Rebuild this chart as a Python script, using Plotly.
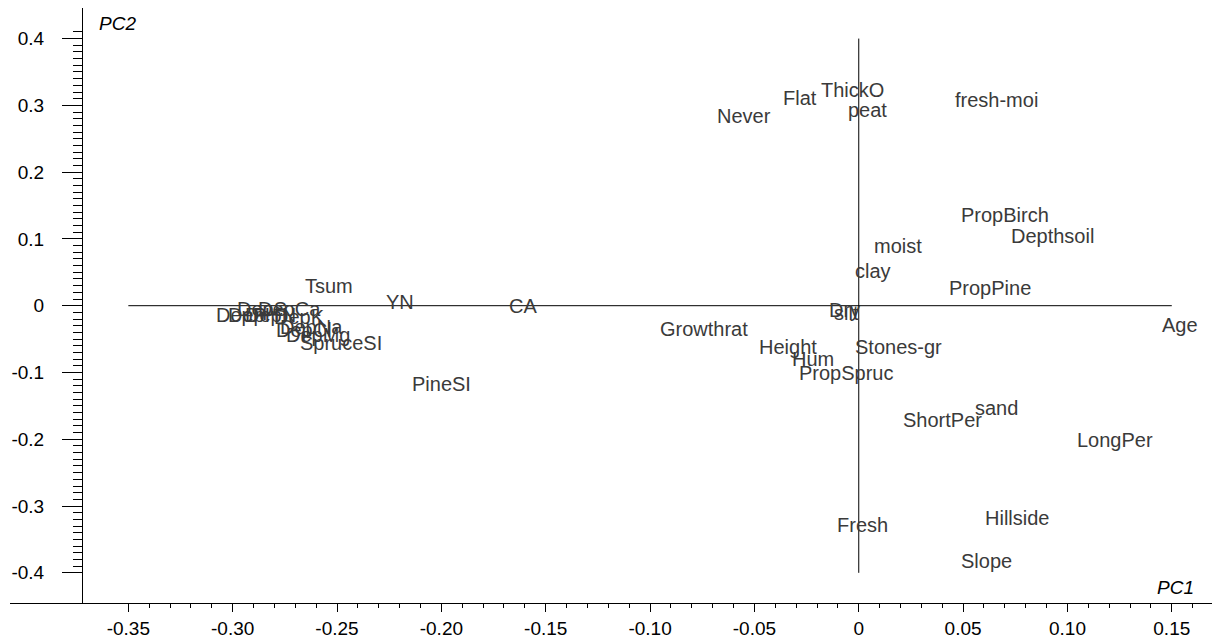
import numpy as np
import plotly.graph_objects as go

# Variable loadings (PC1, PC2)
labels = ["Never", "Flat", "ThickO", "peat", "fresh-moi",
          "PropBirch", "Depthsoil", "moist", "clay", "PropPine",
          "Tsum", "YN", "CA", "PineSI",
          "DepS", "DepCa", "DepP", "DepH", "DepN", "DepK", "DepCl", "DepNa", "DepMg", "SpruceSI",
          "Growthrat", "Height", "Hum", "PropSpruc", "Dry", "silt", "Stones-gr",
          "Age", "sand", "ShortPer", "LongPer", "Hillside", "Slope", "Fresh"]
pc1 = [-0.055, -0.028, -0.003, 0.004, 0.066,
       0.070, 0.093, 0.019, 0.007, 0.063,
       -0.254, -0.220, -0.161, -0.200,
       -0.286, -0.273, -0.296, -0.290, -0.282, -0.268, -0.266, -0.262, -0.259, -0.248,
       -0.074, -0.034, -0.022, -0.006, -0.007, -0.006, 0.019,
       0.154, 0.066, 0.040, 0.123, 0.076, 0.061, 0.002]
pc2 = [0.285, 0.313, 0.324, 0.294, 0.309,
       0.137, 0.106, 0.091, 0.054, 0.028,
       0.031, 0.007, 0.001, -0.116,
       -0.003, -0.003, -0.013, -0.013, -0.013, -0.016, -0.035, -0.030, -0.042, -0.054,
       -0.033, -0.060, -0.079, -0.100, -0.005, -0.009, -0.061,
       -0.028, -0.151, -0.169, -0.200, -0.316, -0.381, -0.327]

x_ticks = [-0.35, -0.30, -0.25, -0.20, -0.15, -0.10, -0.05, 0, 0.05, 0.10, 0.15]
x_ticktext = ["-0.35", "-0.30", "-0.25", "-0.20", "-0.15", "-0.10", "-0.05", "0", "0.05", "0.10", "0.15"]
y_ticks = [-0.4, -0.3, -0.2, -0.1, 0, 0.1, 0.2, 0.3, 0.4]
y_ticktext = ["-0.4", "-0.3", "-0.2", "-0.1", "0", "0.1", "0.2", "0.3", "0.4"]

pc1_extent = [-0.35, 0.15]
pc2_extent = [-0.4, 0.4]

FONT = "Liberation Sans, Arial, sans-serif"

fig = go.Figure()
# invisible anchor points (for hover) - labels drawn as annotations
fig.add_trace(go.Scatter(
    x=pc1, y=pc2, text=labels, mode="markers", marker=dict(size=1, opacity=0),
    hoverinfo="text", showlegend=False))

for lab, px, py in zip(labels, pc1, pc2):
    fig.add_annotation(x=px, y=py, text=lab, showarrow=False, yshift=-1,
                       xanchor="center", yanchor="middle",
                       font=dict(family=FONT, size=20, color="#3a3a3a"))

# centre cross lines
fig.add_shape(type="line", x0=pc1_extent[0], x1=pc1_extent[1], y0=0, y1=0,
              line=dict(color="black", width=1), layer="below")
fig.add_shape(type="line", x0=0, x1=0, y0=pc2_extent[0], y1=pc2_extent[1],
              line=dict(color="black", width=1), layer="below")

fig.add_annotation(x=0.152, y=-0.422, text="<i>PC1</i>", showarrow=False,
                   font=dict(family=FONT, size=19, color="black"))
fig.add_annotation(x=-0.355, y=0.422, text="<i>PC2</i>", showarrow=False,
                   font=dict(family=FONT, size=19, color="black"))

x_minor = list(np.round(np.arange(-0.35, 0.1601, 0.01), 2))
y_minor = list(np.round(np.arange(-0.40, 0.4101, 0.01), 2))

# page body has an 8px margin, so the figure is sized to fit the window
fig.update_layout(
    width=1212, height=631,
    margin=dict(l=2, r=0, t=0, b=34),
    paper_bgcolor="white", plot_bgcolor="white",
    font=dict(family=FONT, size=19, color="black"),
    xaxis=dict(range=[-0.4067, 0.1731], showgrid=False, zeroline=False,
               showline=True, linecolor="black", linewidth=1,
               ticks="outside", ticklen=8, tickcolor="black", tickwidth=1,
               tickmode="array", tickvals=x_ticks, ticktext=x_ticktext,
               tickfont=dict(family=FONT, size=19, color="black"),
               minor=dict(tickmode="array", tickvals=x_minor, ticks="outside",
                          ticklen=4, tickcolor="black", tickwidth=1, showgrid=False),
               fixedrange=True),
    yaxis=dict(range=[-0.4452, 0.4458], showgrid=False, zeroline=False,
               anchor="free", position=0.0595,
               showline=True, linecolor="black", linewidth=1,
               ticks="outside", ticklen=20, tickcolor="black", tickwidth=1,
               tickmode="array", tickvals=y_ticks, ticktext=y_ticktext,
               ticklabelstandoff=14,
               tickfont=dict(family=FONT, size=19, color="black"),
               minor=dict(tickmode="array", tickvals=y_minor, ticks="outside",
                          ticklen=9, tickcolor="black", tickwidth=1, showgrid=False),
               fixedrange=True),
)

fig.write_html("out.html")
